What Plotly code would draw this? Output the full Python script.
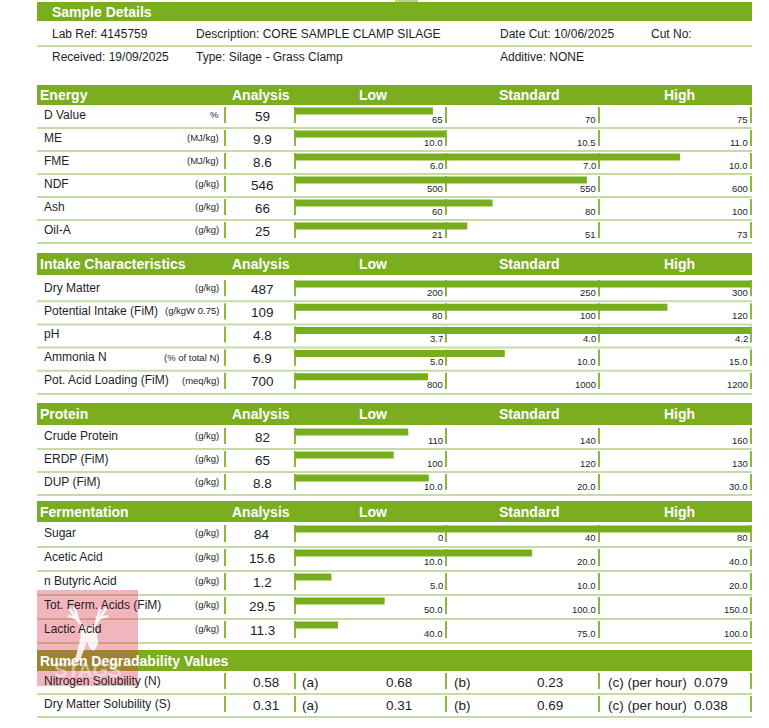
import plotly.graph_objects as go

W, H = 769, 728
GREEN = "#7aae1f"
BAR = "#78ad1e"
VLINE = "#8aba38"
LIGHT = "#c6dba6"
TXT = "#1e1e1e"
FONT = "Liberation Sans, Arial, sans-serif"

# ---- data ----
sample_row1 = ["Lab Ref: 4145759", "Description: CORE SAMPLE CLAMP SILAGE", "Date Cut: 10/06/2025", "Cut No:"]
sample_row2 = ["Received: 19/09/2025", "Type: Silage - Grass Clamp", "Additive: NONE"]

energy_labels = ["D Value", "ME", "FME", "NDF", "Ash", "Oil-A"]
energy_units = ["%", "(MJ/kg)", "(MJ/kg)", "(g/kg)", "(g/kg)", "(g/kg)"]
energy_values = ["59", "9.9", "8.6", "546", "66", "25"]
energy_low = ["65", "10.0", "6.0", "500", "60", "21"]
energy_std = ["70", "10.5", "7.0", "550", "80", "51"]
energy_high = ["75", "11.0", "10.0", "600", "100", "73"]

intake_labels = ["Dry Matter", "Potential Intake (FiM)", "pH", "Ammonia N", "Pot. Acid Loading (FiM)"]
intake_units = ["(g/kg)", "(g/kgW 0.75)", "", "(% of total N)", "(meq/kg)"]
intake_values = ["487", "109", "4.8", "6.9", "700"]
intake_low = ["200", "80", "3.7", "5.0", "800"]
intake_std = ["250", "100", "4.0", "10.0", "1000"]
intake_high = ["300", "120", "4.2", "15.0", "1200"]

protein_labels = ["Crude Protein", "ERDP (FiM)", "DUP (FiM)"]
protein_units = ["(g/kg)", "(g/kg)", "(g/kg)"]
protein_values = ["82", "65", "8.8"]
protein_low = ["110", "100", "10.0"]
protein_std = ["140", "120", "20.0"]
protein_high = ["160", "130", "30.0"]

ferm_labels = ["Sugar", "Acetic Acid", "n Butyric Acid", "Tot. Ferm. Acids (FiM)", "Lactic Acid"]
ferm_units = ["(g/kg)", "(g/kg)", "(g/kg)", "(g/kg)", "(g/kg)"]
ferm_values = ["84", "15.6", "1.2", "29.5", "11.3"]
ferm_low = ["0", "10.0", "5.0", "50.0", "40.0"]
ferm_std = ["40", "20.0", "10.0", "100.0", "75.0"]
ferm_high = ["80", "40.0", "20.0", "150.0", "100.0"]

rumen_labels = ["Nitrogen Solubility (N)", "Dry Matter Solubility (S)"]
rumen_values = ["0.58", "0.31"]
rumen_a = ["0.68", "0.31"]
rumen_b = ["0.23", "0.69"]
rumen_c = ["0.079", "0.038"]

# ---- layout positions (pixels) ----
X0, X1 = 37, 752
COL_UNIT, COL_VAL = 221, 262
SEG = [295, 446, 599, 751]

sections = [
    dict(name="Energy", head=(85, 105), top=105, h=23,
         labels=energy_labels, units=energy_units, values=energy_values,
         low=energy_low, std=energy_std, high=energy_high),
    dict(name="Intake Characteristics", head=(253, 275), top=278, h=23.2,
         labels=intake_labels, units=intake_units, values=intake_values,
         low=intake_low, std=intake_std, high=intake_high),
    dict(name="Protein", head=(403, 425), top=426, h=23,
         labels=protein_labels, units=protein_units, values=protein_values,
         low=protein_low, std=protein_std, high=protein_high),
    dict(name="Fermentation", head=(501, 522), top=523, h=24,
         labels=ferm_labels, units=ferm_units, values=ferm_values,
         low=ferm_low, std=ferm_std, high=ferm_high),
]


def seg_pos(v, lo, st, hi):
    # piecewise scale: 0-1 low band, 1-2 standard band, 2-3 high band
    if v <= lo:
        return v / lo if lo > 0 else 0
    if v <= st:
        return 1 + (v - lo) / (st - lo)
    if v <= hi:
        return 2 + (v - st) / (hi - st)
    return 3


def px(x):
    return x / W


shapes = []
annos = []


def text(x, y, s, size=12, anchor="left", color=TXT, bold=False):
    annos.append(dict(
        x=px(x), y=y, xref="paper", yref="y", text=f"<b>{s}</b>" if bold else s,
        showarrow=False, xanchor=anchor, yanchor="middle",
        font=dict(family=FONT, size=size, color=color)))


def rect(x0, y0, x1, y1, color, layer="below"):
    shapes.append(dict(type="rect", xref="paper", yref="y", x0=px(x0), x1=px(x1),
                       y0=y0, y1=y1, fillcolor=color, line=dict(width=0), layer=layer))


def line(x0, y0, x1, y1, color, width=2):
    shapes.append(dict(type="line", xref="paper", yref="y", x0=px(x0), x1=px(x1),
                       y0=y0, y1=y1, line=dict(color=color, width=width), layer="below"))


# sample details block
rect(395, 0, 418, 2, "#b9d38a")
rect(X0, 2, X1, 21, GREEN)
text(50, 12, "Sample Details", size=14, color="white", bold=True)
for x, s in zip([50, 194, 498, 649], sample_row1):
    text(x, 34, s)
line(X0, 46, X1, 46, LIGHT)
for x, s in zip([50, 194, 498], sample_row2):
    text(x, 57, s)

bar_x, bar_y = [], []

for sec in sections:
    h0, h1 = sec["head"]
    rect(X0, h0, X1, h1, GREEN)
    hy = (h0 + h1) / 2
    text(38, hy, sec["name"], size=14, color="white", bold=True)
    for x, s in zip([261, 373, 529, 679], ["Analysis", "Low", "Standard", "High"]):
        text(x, hy, s, size=14, color="white", bold=True, anchor="center")
    for i, lab in enumerate(sec["labels"]):
        t = sec["top"] + i * sec["h"]
        b = t + sec["h"]
        text(42, t + 9.5, lab)
        text(COL_UNIT, t + 9.5, sec["units"][i], size=9.5, anchor="right")
        text(COL_VAL, t + 11, sec["values"][i], size=13.5, anchor="center")
        for x in [225] + SEG:
            line(x, t + 2, x, b - 5, VLINE)
        for x, s in zip(SEG[1:], [sec["low"][i], sec["std"][i], sec["high"][i]]):
            text(x - 1, t + 14, s, size=9.5, anchor="right")
        line(X0, b, X1, b, LIGHT)
        lo, st, hi = (float(sec[k][i]) for k in ("low", "std", "high"))
        bar_x.append(seg_pos(float(sec["values"][i]), lo, st, hi))
        bar_y.append(t + 6)

# rumen degradability block
rect(X0, 650, X1, 671, GREEN)
text(38, 660.5, "Rumen Degradability Values", size=14, color="white", bold=True)
for i, lab in enumerate(rumen_labels):
    t = 671 + i * 23
    b = t + 23
    text(42, t + 10, lab)
    text(COL_VAL + 4, t + 11, rumen_values[i], size=13.5, anchor="center")
    text(300, t + 11, "(a)", size=13.5)
    text(414, t + 11, rumen_a[i], size=13.5, anchor="right")
    text(452, t + 11, "(b)", size=13.5)
    text(550, t + 11, rumen_b[i], size=13.5, anchor="center")
    text(606, t + 11, "(c) (per hour)", size=13.5)
    text(692, t + 11, rumen_c[i], size=13.5)
    for x in [225] + SEG:
        line(x, t + 2, x, b - 5, VLINE)
    line(X0, b, X1, b, LIGHT)

fig = go.Figure(go.Bar(
    x=bar_x, y=bar_y, base=0, orientation="h", width=7,
    marker=dict(color=BAR, line=dict(width=0)), hoverinfo="skip"))

# watermark (pink square with a stag head)
WM = "rgba(255,255,255,0.85)"
shapes.append(dict(type="rect", xref="paper", yref="y", x0=px(37), x1=px(138), y0=590, y1=686,
                   fillcolor="rgba(222,60,85,0.38)", line=dict(width=0), layer="above"))
head = [(83, 627), (94, 627), (97, 633), (98, 644), (94, 651), (90, 649), (87, 642),
        (84, 650), (80, 660), (74, 663), (77, 652), (80, 640), (81, 632)]
path = "M" + " L".join(f"{px(x)},{y}" for x, y in head) + " Z"
shapes.append(dict(type="path", xref="paper", yref="y", path=path,
                   fillcolor=WM, line=dict(width=0), layer="above"))
antlers = [
    [(84, 628), (76, 618), (69, 608)], [(76, 618), (68, 616)], [(79, 622), (74, 607)],
    [(93, 628), (100, 618), (106, 608)], [(100, 618), (108, 616)], [(96, 622), (101, 607)],
]
for pts in antlers:
    for (xa, ya), (xb, yb) in zip(pts[:-1], pts[1:]):
        shapes.append(dict(type="line", xref="paper", yref="y", x0=px(xa), x1=px(xb), y0=ya, y1=yb,
                           line=dict(color=WM, width=2.5), layer="above"))
annos.append(dict(x=px(87), y=670, xref="paper", yref="y", text="<b>STAGS</b>", showarrow=False,
                  xanchor="center", yanchor="middle",
                  font=dict(family=FONT, size=20, color="rgba(255,255,255,0.45)")))

fig.update_layout(
    width=W, height=H,
    margin=dict(l=0, r=0, t=0, b=0),
    paper_bgcolor="white", plot_bgcolor="white",
    showlegend=False,
    xaxis=dict(domain=[px(SEG[0]), px(SEG[3])], range=[0, 3], visible=False, fixedrange=True),
    yaxis=dict(domain=[0, 1], range=[H, 0], visible=False, fixedrange=True),
    shapes=shapes,
    annotations=annos,
)

# drop the browser's default body margin so the page lines up with the window
fig.write_html("out.html", config={"displayModeBar": False},
               post_script="document.body.style.margin = '0px';")
